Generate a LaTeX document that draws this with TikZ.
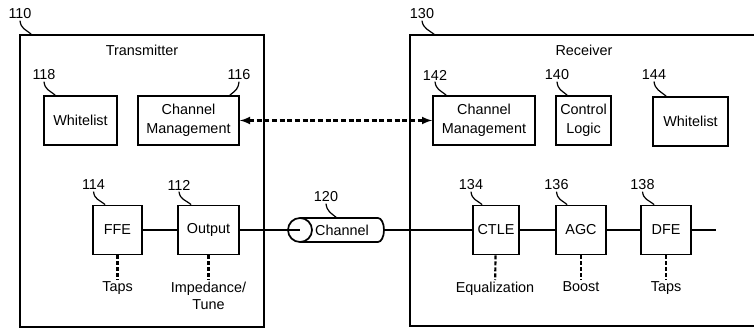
\documentclass[tikz,border=0pt]{standalone}
\usepackage{fontspec}
\setmainfont{Liberation Sans}
\usepackage{tikz}

\begin{document}
\begin{tikzpicture}[x=0.75pt,y=-0.75pt,
  every node/.style={font=\fontsize{10.8}{14}\selectfont},
  frame/.style={line width=1.3pt},
  box/.style={draw,line width=1.3pt,inner sep=1pt,align=center,minimum height=36.75pt},
  num/.style={inner sep=1pt},
  lead/.style={line width=0.9pt},
  sig/.style={line width=1.3pt},
  knob/.style={anchor=north,inner sep=1pt,align=center,font=\fontsize{10.8}{13}\selectfont},
  tune/.style={line width=1.6pt,dash pattern=on 3pt off 1.5pt},
  link/.style={line width=1.6pt,dash pattern=on 3.75pt off 2pt,-latex}]
\useasboundingbox (0,0) rectangle (754,331);
% frames
\node[draw,frame,minimum width=183pt,minimum height=219pt] (tx) at (142,181) {};
\coordinate (rx) at (410,35);
\draw[frame] (754,35) -- (rx) |- (754,326);
\node (txt) at (142,50) {Transmitter};
\node (rxt) at (584,50) {Receiver};
% upper row
\node[box,minimum width=54.75pt] (wl118) at (80.5,120.5) {Whitelist};
\node[box,minimum width=75.75pt] (cm116) at (188.5,120.5) {Channel\\Management};
\node[box,minimum width=76.5pt] (cm142) at (484,120.5) {Channel\\Management};
\node[box,minimum width=41.25pt] (cl140) at (583.5,120.5) {Control\\Logic};
\node[box,minimum width=56.25pt] (wl144) at (690.5,121.5) {Whitelist};
\draw[link,latex-latex] (cm116) -- (cm142);
% signal path
\node[box,minimum width=36.75pt] (ffe114) at (117.5,230) {FFE};
\node[box,minimum width=45.75pt] (out112) at (208.5,230) {Output};
\node[box,minimum width=34.5pt] (ctle134) at (496,230) {CTLE};
\node[box,minimum width=37.5pt] (agc136) at (581,230) {AGC};
\node[box,minimum width=37.5pt] (dfe138) at (666,230) {DFE};
\coordinate (chin) at (300,230);
\coordinate (chout) at (384,230);
\coordinate (chtop) at (337,218);
\coordinate (sigend) at (716,230);
\node (ch120) at (342,230) {Channel};
\draw[sig] (300,218) -- (378,218) arc[start angle=-90,end angle=90,x radius=6,y radius=12] -- (300,242);
\draw[sig] (chin) circle[radius=12];
\draw[sig] (ffe114) -- (out112);
\draw[sig] (out112) -- (chin);
\draw[sig] (chout) -- (ctle134);
\draw[sig] (ctle134) -- (agc136);
\draw[sig] (agc136) -- (dfe138);
\draw[sig] (dfe138) -- (sigend);
% tuning knobs
\node[knob] (taps114) at (117.5,280) {Taps};
\node[knob] (imp112) at (208.5,280) {Impedance/\\Tune};
\node[knob] (eq134) at (495,280) {Equalization};
\node[knob] (boost136) at (581,280) {Boost};
\node[knob] (taps138) at (666,280) {Taps};
\draw[tune] (ffe114) -- (taps114);
\draw[tune] (out112) -- (imp112);
\draw[tune] (ctle134) -- (eq134);
\draw[tune] (agc136) -- (boost136);
\draw[tune] (dfe138) -- (taps138);
% reference numbers
\node[num] (n110) at (20,14) {110};
\node[num] (n130) at (422,14) {130};
\node[num] (n118) at (44,75) {118};
\node[num] (n116) at (239,75) {116};
\node[num] (n142) at (435,75) {142};
\node[num] (n140) at (557,75) {140};
\node[num] (n144) at (654,75) {144};
\node[num] (n114) at (93.5,185) {114};
\node[num] (n112) at (179,185) {112};
\node[num] (n120) at (326,197) {120};
\node[num] (n134) at (471,185) {134};
\node[num] (n136) at (556.5,185) {136};
\node[num] (n138) at (642.5,185) {138};
\draw[lead] (n110.south) .. controls +(1,8) and +(-6,-5) .. ([xshift=9pt]tx.north west);
\draw[lead] (n130.south) .. controls +(1,8) and +(-6,-5) .. ([xshift=18.75pt]rx);
\draw[lead] (n118.south) .. controls +(1,8) and +(-6,-5) .. ([xshift=9pt]wl118.north west);
\draw[lead] (n116.south) .. controls +(-1,8) and +(6,-5) .. ([xshift=-7.5pt]cm116.north east);
\draw[lead] (n142.south) .. controls +(1,8) and +(-6,-5) .. ([xshift=10.5pt]cm142.north west);
\draw[lead] (n140.south) .. controls +(1,8) and +(-6,-5) .. ([xshift=9pt]cl140.north west);
\draw[lead] (n144.south) .. controls +(1,8) and +(-6,-5) .. ([xshift=10.5pt]wl144.north west);
\draw[lead] (n114.south) .. controls +(1,8) and +(-6,-5) .. ([xshift=9.75pt]ffe114.north west);
\draw[lead] (n112.south) .. controls +(1,8) and +(-6,-5) .. ([xshift=10.5pt]out112.north west);
\draw[lead] (n120.south) .. controls +(1,8) and +(-6,-5) .. (chtop);
\draw[lead] (n134.south) .. controls +(1,8) and +(-6,-5) .. ([xshift=7.5pt]ctle134.north west);
\draw[lead] (n136.south) .. controls +(1,8) and +(-6,-5) .. ([xshift=9pt]agc136.north west);
\draw[lead] (n138.south) .. controls +(1,8) and +(-6,-5) .. ([xshift=10.5pt]dfe138.north west);
\end{tikzpicture}
\end{document}
